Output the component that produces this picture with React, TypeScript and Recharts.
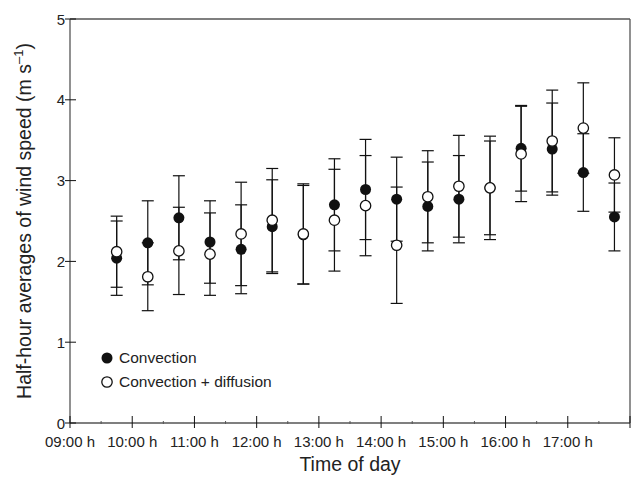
import React from 'react'
import { ScatterChart, Scatter, XAxis, YAxis, ErrorBar, Legend, Label } from 'recharts'

// half-hour time stamps (decimal hours)
const TIMES = [9.75, 10.25, 10.75, 11.25, 11.75, 12.25, 12.75, 13.25, 13.75, 14.25, 14.75, 15.25, 15.75, 16.25, 16.75, 17.25, 17.75]

// convection (filled dots)
const CONV = [2.04, 2.23, 2.54, 2.24, 2.15, 2.43, 2.33, 2.70, 2.89, 2.77, 2.68, 2.77, 2.91, 3.40, 3.39, 3.10, 2.55]
const CONV_SD = [0.46, 0.52, 0.52, 0.51, 0.55, 0.58, 0.61, 0.57, 0.62, 0.52, 0.55, 0.54, 0.58, 0.53, 0.57, 0.48, 0.42]

// convection + diffusion (open dots)
const DIFF = [2.12, 1.81, 2.13, 2.09, 2.34, 2.51, 2.34, 2.51, 2.69, 2.20, 2.80, 2.93, 2.91, 3.33, 3.49, 3.65, 3.07]
const DIFF_SD = [0.44, 0.42, 0.54, 0.51, 0.64, 0.64, 0.62, 0.63, 0.62, 0.72, 0.57, 0.63, 0.64, 0.59, 0.63, 0.56, 0.46]

const HOUR_TICKS = [9, 10, 11, 12, 13, 14, 15, 16, 17, 18]
const HOUR_LABELS = ['09:00 h', '10:00 h', '11:00 h', '12:00 h', '13:00 h', '14:00 h', '15:00 h', '16:00 h', '17:00 h', '']
const HALF_HOUR_TICKS = [9.5, 10.5, 11.5, 12.5, 13.5, 14.5, 15.5, 16.5, 17.5]
const Y_TICKS = [0, 1, 2, 3, 4, 5]

const convData = TIMES.map((t, i) => ({ t, v: CONV[i], err: CONV_SD[i] }))
const diffData = TIMES.map((t, i) => ({ t, v: DIFF[i], err: DIFF_SD[i] }))
const bottomTicks = [...HOUR_TICKS, ...HALF_HOUR_TICKS].sort((a, b) => a - b)

const FONT = '"Liberation Sans", Arial, sans-serif'
const AXIS = '#555'
const INK = '#111'

const BottomTick = ({ x, y, payload }: any) => {
  const idx = HOUR_TICKS.indexOf(payload.value)
  if (idx < 0) return <line x1={x} x2={x} y1={y - 2} y2={y + 1} stroke={AXIS} />
  return (
    <g>
      <line x1={x} x2={x} y1={y - 7} y2={y + 5} stroke={INK} />
      <text x={x} y={y + 23.5} textAnchor="middle" fontSize={15} fontFamily={FONT} fill="#222">
        {HOUR_LABELS[idx]}
      </text>
    </g>
  )
}

const TopTick = ({ x, y }: any) => (
  <line x1={x} x2={x} y1={y - 5} y2={y + 5} stroke={INK} />
)

const LeftTick = ({ x, y, payload }: any) => (
  <g>
    <line x1={x - 5} x2={x + 6} y1={y} y2={y} stroke={INK} />
    <text x={x - 5} y={y + 5.5} textAnchor="end" fontSize={15} fontFamily={FONT} fill="#222">
      {payload.value}
    </text>
  </g>
)

const RightTick = ({ x, y }: any) => (
  <line x1={x - 7} x2={x + 3} y1={y} y2={y} stroke={INK} />
)

const FilledDot = ({ cx, cy }: any) => <circle cx={cx} cy={cy} r={5.5} fill={INK} />
const OpenDot = ({ cx, cy }: any) => (
  <circle cx={cx} cy={cy} r={5.2} fill="#fff" stroke={INK} strokeWidth={1.3} />
)

const LegendBox = () => (
  <div style={{ fontFamily: FONT, fontSize: 15.5, color: '#222' }}>
    {[
      { name: 'Convection', filled: true },
      { name: 'Convection + diffusion', filled: false },
    ].map((item) => (
      <div key={item.name} style={{ display: 'flex', alignItems: 'center', height: 24 }}>
        <svg width={14} height={14} style={{ marginRight: 5 }}>
          {item.filled ? (
            <circle cx={7} cy={7} r={5.5} fill={INK} />
          ) : (
            <circle cx={7} cy={7} r={5.2} fill="#fff" stroke={INK} strokeWidth={1.3} />
          )}
        </svg>
        <span>{item.name}</span>
      </div>
    ))}
  </div>
)

export default function App() {
  return (
    <div style={{ position: 'absolute', left: 0, top: 0, background: '#fff' }}>
      <ScatterChart width={633} height={483} margin={{ top: 0, right: 0, bottom: 0, left: 0 }}>
        <XAxis
          dataKey="t"
          type="number"
          domain={[9, 18]}
          ticks={bottomTicks}
          interval={0}
          tickSize={0}
          tickMargin={0}
          tickLine={false}
          tick={<BottomTick />}
          height={60}
          axisLine={{ stroke: AXIS, strokeWidth: 1.3 }}
        >
          <Label
            content={({ viewBox }: any) => (
              <text
                x={viewBox.x + viewBox.width / 2}
                y={viewBox.y + 48}
                textAnchor="middle"
                fontSize={19.5}
                fontFamily={FONT}
                fill="#222"
              >
                Time of day
              </text>
            )}
          />
        </XAxis>
        <XAxis
          xAxisId="top"
          orientation="top"
          type="number"
          domain={[9, 18]}
          ticks={HOUR_TICKS}
          interval={0}
          tickSize={0}
          tickMargin={0}
          tickLine={false}
          tick={<TopTick />}
          height={19}
          axisLine={{ stroke: AXIS, strokeWidth: 1.3 }}
        />
        <YAxis
          dataKey="v"
          type="number"
          domain={[0, 5]}
          ticks={Y_TICKS}
          interval={0}
          tickSize={0}
          tickMargin={0}
          tickLine={false}
          tick={<LeftTick />}
          width={70}
          axisLine={{ stroke: AXIS, strokeWidth: 1.3 }}
        >
          <Label
            content={({ viewBox }: any) => {
              const cx = viewBox.x + 31
              const cy = viewBox.y + viewBox.height / 2
              return (
                <text
                  x={cx}
                  y={cy}
                  transform={`rotate(-90, ${cx}, ${cy})`}
                  textAnchor="middle"
                  fontSize={19.5}
                  fontFamily={FONT}
                  fill="#222"
                >
                  Half-hour averages of wind speed (m s
                  <tspan dy={-8} fontSize={13}>–1</tspan>
                  <tspan dy={8}>)</tspan>
                </text>
              )
            }}
          />
        </YAxis>
        <YAxis
          yAxisId="right"
          orientation="right"
          type="number"
          domain={[0, 5]}
          ticks={Y_TICKS}
          interval={0}
          tickSize={0}
          tickMargin={0}
          tickLine={false}
          tick={<RightTick />}
          width={3}
          axisLine={{ stroke: AXIS, strokeWidth: 1.3 }}
        />
        <Legend
          layout="vertical"
          align="center"
          verticalAlign="middle"
          content={<LegendBox />}
          wrapperStyle={{ left: 100, top: 346, width: 'auto' }}
        />
        <Scatter name="Convection" data={convData} shape={<FilledDot />} isAnimationActive={false}>
          <ErrorBar dataKey="err" direction="y" width={6} stroke={INK} strokeWidth={1.2} isAnimationActive={false} />
        </Scatter>
        <Scatter name="Convection + diffusion" data={diffData} shape={<OpenDot />} isAnimationActive={false}>
          <ErrorBar dataKey="err" direction="y" width={6} stroke={INK} strokeWidth={1.2} isAnimationActive={false} />
        </Scatter>
      </ScatterChart>
    </div>
  )
}
